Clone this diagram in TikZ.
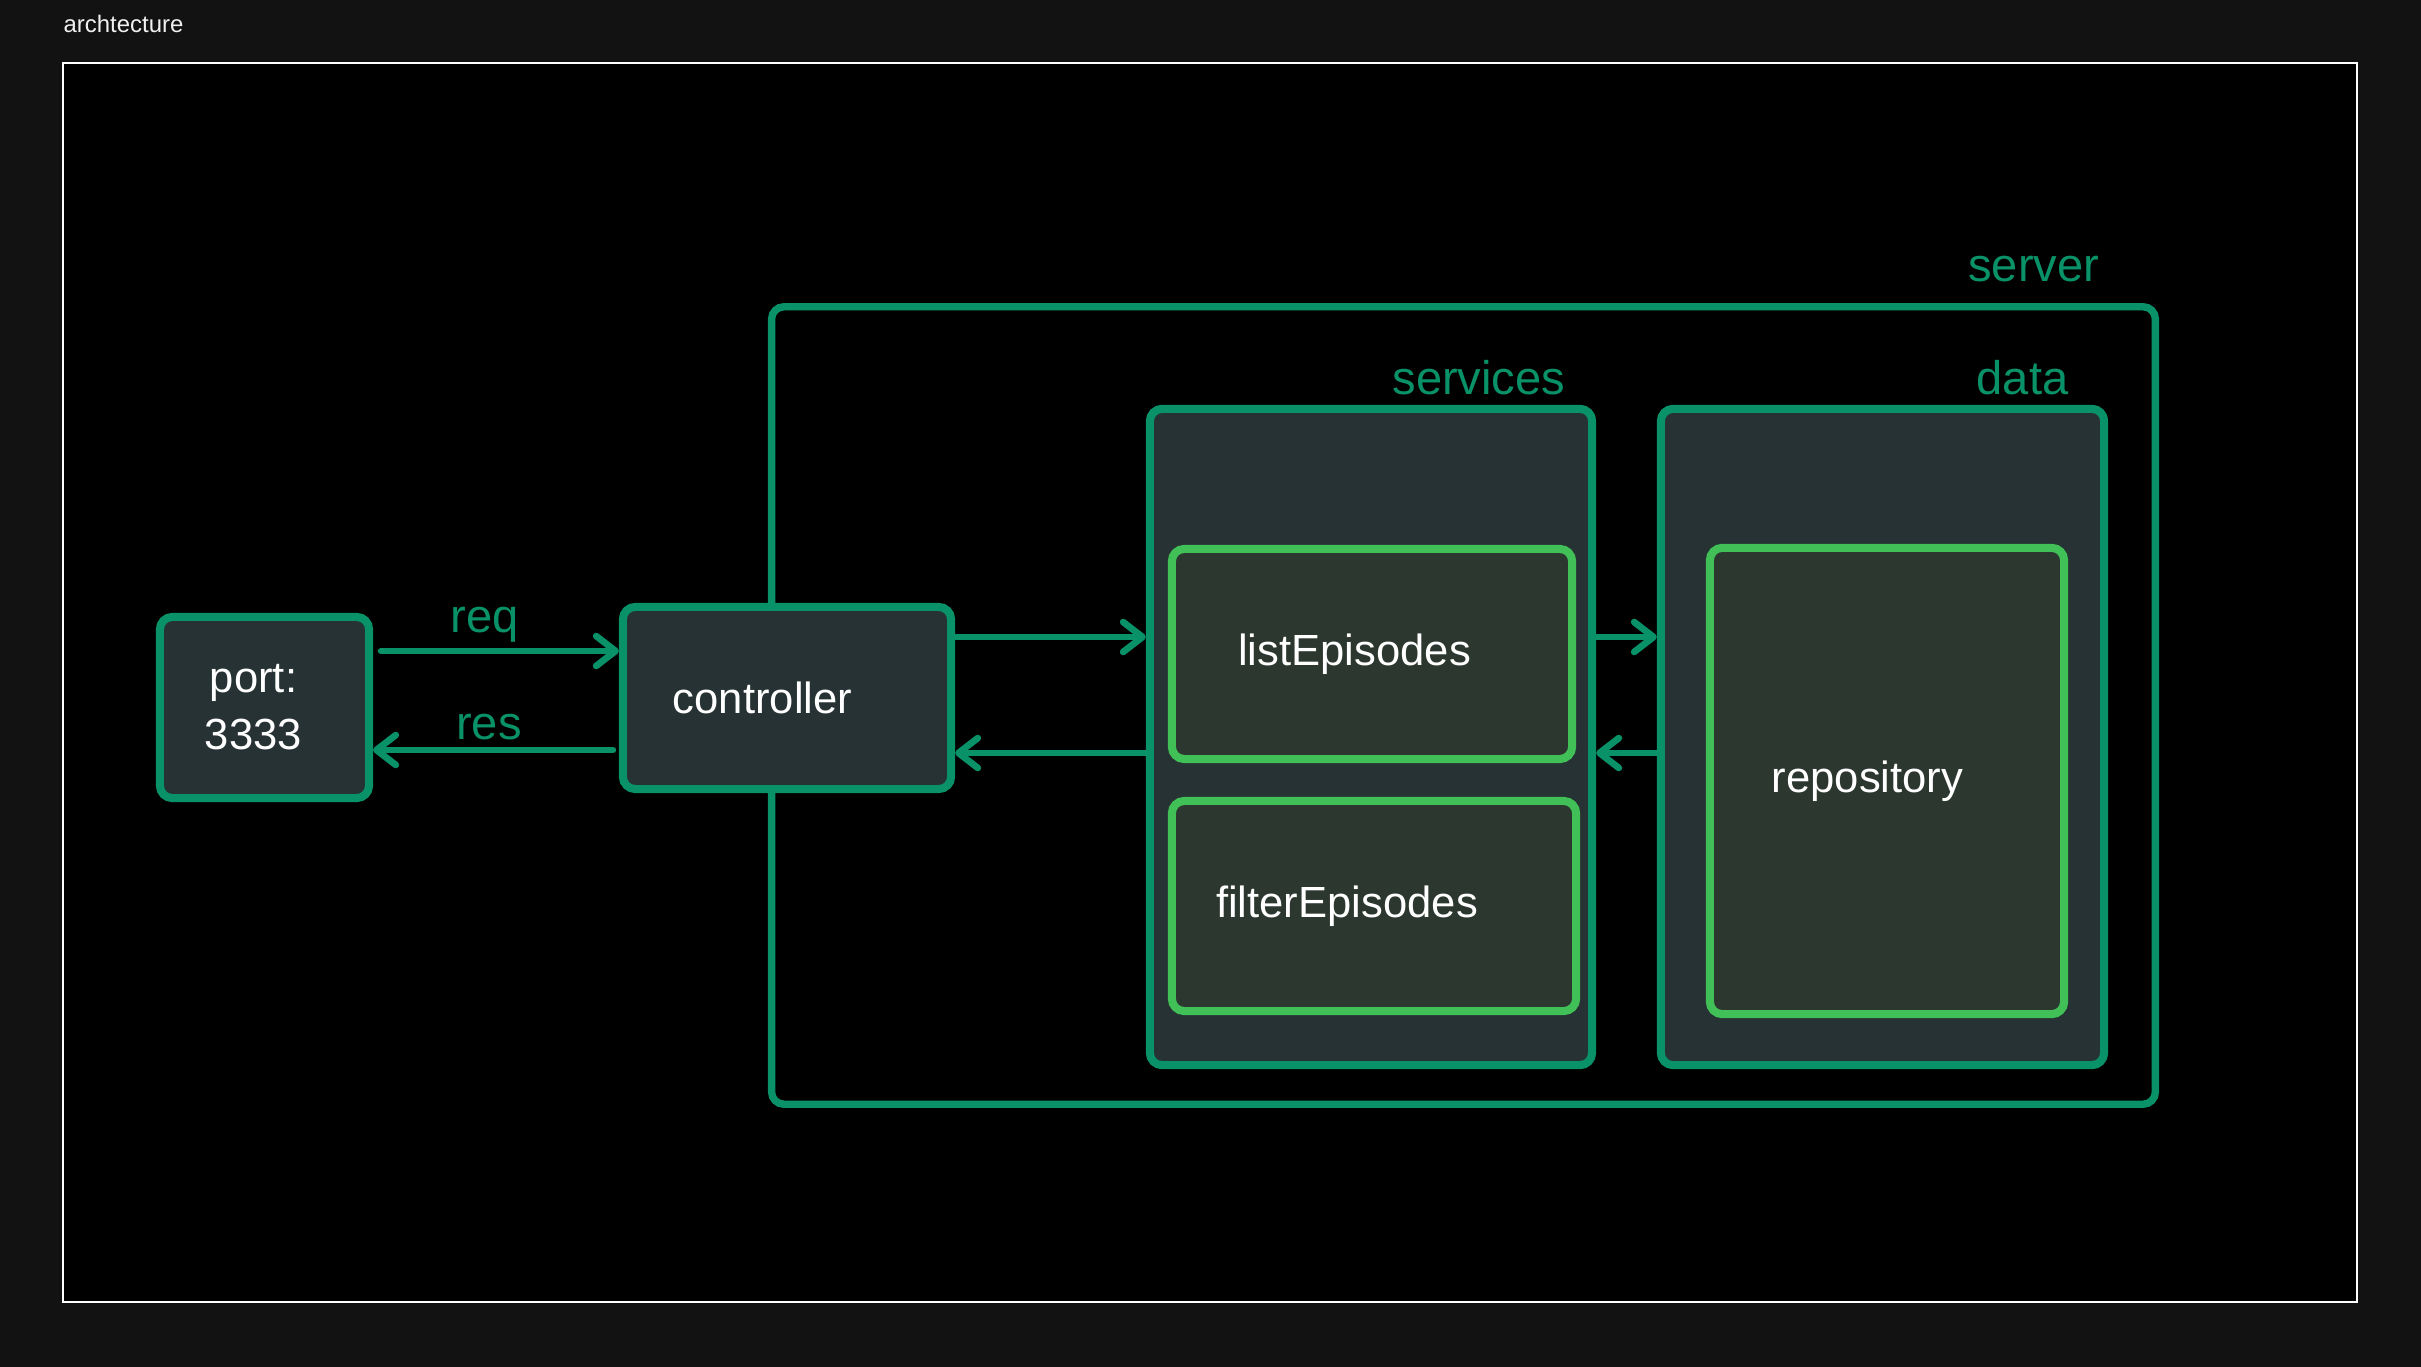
\documentclass[tikz,border=0pt]{standalone}
\usepackage{fontspec}
\setmainfont{Liberation Sans}
\usetikzlibrary{arrows.meta,positioning}

\definecolor{tealline}{HTML}{099268}
\definecolor{greenline}{HTML}{40C057}
\definecolor{boxfill}{RGB}{38,50,52}
\definecolor{innerfill}{RGB}{44,55,48}
\definecolor{pagebg}{HTML}{121212}

\tikzset{
  box/.style={draw=tealline,fill=boxfill,line width=2.3pt,rounded corners=3.5pt,inner sep=0pt},
  inbox/.style={draw=greenline,fill=innerfill,line width=2.3pt,rounded corners=3.5pt,inner sep=0pt},
  txt/.style={text=white,font=\fontsize{12.4}{16.2}\selectfont,align=center,inner sep=0pt},
  lbl/.style={text=tealline,font=\fontsize{13.4}{16}\selectfont,inner sep=0pt},
  flow/.style={draw=tealline,line width=1.9pt,line cap=round,
    -{Straight Barb[length=5.5pt,width=8.5pt,round]}}
}

\begin{document}
\begin{tikzpicture}[x=0.01cm,y=-0.01cm]
  \useasboundingbox (0,0) rectangle (2421,1367);
  \fill [pagebg] (0,0) rectangle (2421,1367);

  % Title and frame
  \node [anchor=base west,text=white!94!black,font=\fontsize{6.8}{8}\selectfont,inner sep=0pt]
    (title) at (63,33) {archtecture};
  \draw [white,line width=0.6pt,fill=black] (63,63) rectangle (2357,1302);

  % Server container
  \node [draw=tealline,line width=2.1pt,rounded corners=3.5pt,
    minimum width=13.83cm,minimum height=7.97cm] (server) at (1463.5,705.5) {};
  \node [lbl,anchor=base east] (serverlbl) at (2100,282) {server};

  % Services and data layers
  \node [box,minimum width=4.42cm,minimum height=6.56cm] (services) at (1371,737) {};
  \node [lbl,anchor=base east] (serviceslbl) at (1566,395) {services};
  \node [box,minimum width=4.43cm,minimum height=6.56cm] (data) at (1882.5,737) {};
  \node [lbl,anchor=base east] (datalbl) at (2069,395) {data};

  \node [inbox,minimum width=4.00cm,minimum height=2.10cm,
    label={[txt,xshift=-0.175cm]center:listEpisodes}] (list) at (1372,654) {};
  \node [inbox,minimum width=4.04cm,minimum height=2.10cm,
    label={[txt,xshift=-0.27cm]center:filterEpisodes}] (filter) at (1374,906) {};
  \node [inbox,minimum width=3.54cm,minimum height=4.66cm,
    label={[txt,xshift=-0.195cm]center:repository}] (repo) at (1887,781) {};

  % Port and controller
  \node [box,minimum width=2.09cm,minimum height=1.81cm,
    label={[txt,xshift=-0.11cm]center:port:\\3333}] (port) at (264.5,707.5) {};
  \node [box,minimum width=3.28cm,minimum height=1.82cm,
    label={[txt,xshift=-0.245cm]center:controller}] (ctrl) at (787,698) {};

  % Rows of the flows
  \coordinate (yreq) at (0,651);
  \coordinate (yres) at (0,750);
  \coordinate (yin) at (0,637);
  \coordinate (yout) at (0,753);

  % Draw and label flows
  \draw [flow] ([xshift=0.08cm]port.east |- yreq) -- (ctrl.west |- yreq)
    node [lbl,midway,above=1.6pt,xshift=-0.15cm] {req};
  \draw [flow] ([xshift=-0.06cm]ctrl.west |- yres) -- (port.east |- yres)
    node [lbl,midway,above=2pt,xshift=-0.04cm] {res};
  \draw [flow] ([xshift=-0.04cm]ctrl.east |- yin) -- (services.west |- yin);
  \draw [flow] (services.west |- yout) -- (ctrl.east |- yout);
  \draw [flow] (services.east |- yin) -- (data.west |- yin);
  \draw [flow] (data.west |- yout) -- (services.east |- yout);

\end{tikzpicture}
\end{document}
